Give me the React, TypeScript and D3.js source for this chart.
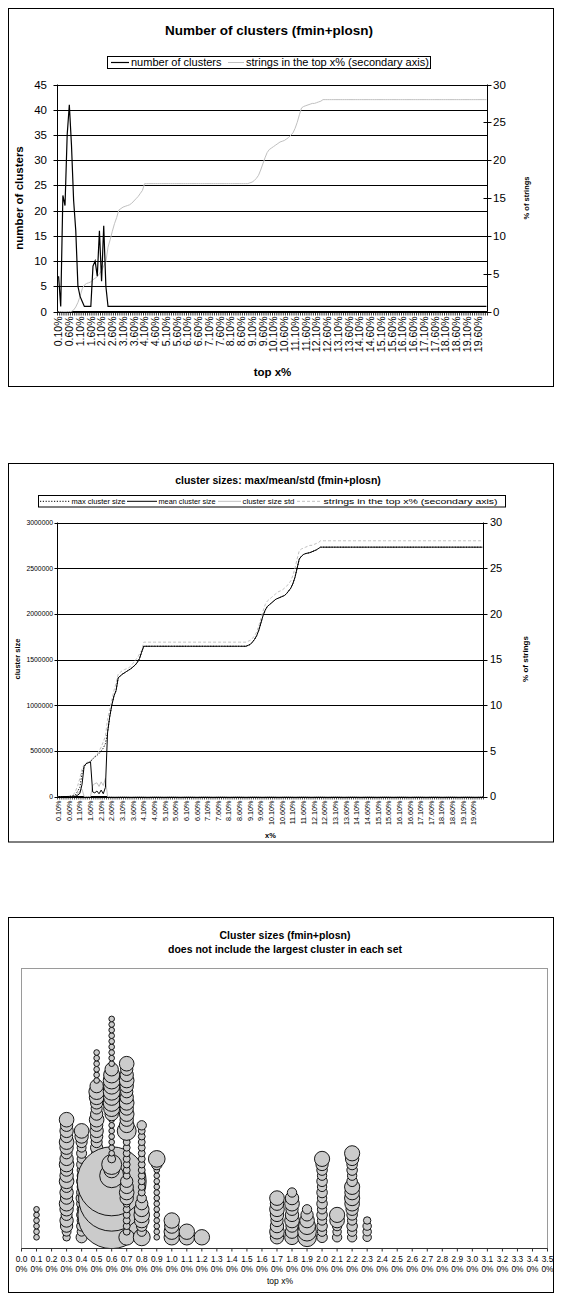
import React from 'react';
import * as d3 from 'd3';

const FONT = "'Liberation Sans', Arial, Helvetica, sans-serif";
const INK = '#000';
const LIGHT = '#c0c0c0';

// Category axis shared by the two line charts: top x% = 0.10% .. 20.00%
const topPercent: number[] = d3.range(1, 201).map((d) => d / 10);
const topPercentLabels: string[] = topPercent.map((v) => `${v.toFixed(2)}%`);

// Number of clusters per set
const numClusters: number[] = [
  7, 1, 23, 21, 35, 41, 33, 22, 16, 5, 3, 2, 1, 1, 1, 1, 9, 10, 7, 16, 6, 17, 5, 1, 1,
  1, 1, 1, 1, 1, 1, 1, 1, 1, 1, 1, 1, 1, 1, 1, 1, 1, 1, 1, 1, 1, 1, 1, 1, 1,
  1, 1, 1, 1, 1, 1, 1, 1, 1, 1, 1, 1, 1, 1, 1, 1, 1, 1, 1, 1, 1, 1, 1, 1, 1,
  1, 1, 1, 1, 1, 1, 1, 1, 1, 1, 1, 1, 1, 1, 1, 1, 1, 1, 1, 1, 1, 1, 1, 1, 1,
  1, 1, 1, 1, 1, 1, 1, 1, 1, 1, 1, 1, 1, 1, 1, 1, 1, 1, 1, 1, 1, 1, 1, 1, 1,
  1, 1, 1, 1, 1, 1, 1, 1, 1, 1, 1, 1, 1, 1, 1, 1, 1, 1, 1, 1, 1, 1, 1, 1, 1,
  1, 1, 1, 1, 1, 1, 1, 1, 1, 1, 1, 1, 1, 1, 1, 1, 1, 1, 1, 1, 1, 1, 1, 1, 1,
  1, 1, 1, 1, 1, 1, 1, 1, 1, 1, 1, 1, 1, 1, 1, 1, 1, 1, 1, 1, 1, 1, 1, 1, 1,
];

// % of strings in the top x% (secondary axis)
const stringsPct: number[] = [
  0, 0, 0, 0, 0, 0, 0, 0.2, 0.6, 1.2,
  2.0, 3.0, 3.5, 3.7, 3.8, 3.9, 4.2, 4.4, 4.6, 5.0,
  5.4, 6.0, 6.6, 8.5, 9.5, 10.6, 11.6, 12.4, 13.4, 13.6,
  13.8, 13.9, 14.0, 14.1, 14.3, 14.6, 14.9, 15.2, 15.6, 16.0,
  16.9, 16.9, 16.9, 16.9, 16.9, 16.9, 16.9, 16.9, 16.9, 16.9,
  16.9, 16.9, 16.9, 16.9, 16.9, 16.9, 16.9, 16.9, 16.9, 16.9,
  16.9, 16.9, 16.9, 16.9, 16.9, 16.9, 16.9, 16.9, 16.9, 16.9,
  16.9, 16.9, 16.9, 16.9, 16.9, 16.9, 16.9, 16.9, 16.9, 16.9,
  16.9, 16.9, 16.9, 16.9, 16.9, 16.9, 16.9, 16.9, 16.9, 17.0,
  17.1, 17.3, 17.6, 18.0, 18.7, 19.5, 20.3, 21.0, 21.4, 21.6,
  21.8, 22.0, 22.2, 22.4, 22.5, 22.6, 22.8, 23.0, 23.3, 23.6,
  24.2, 25.0, 26.0, 26.9, 27.1, 27.2, 27.3, 27.4, 27.5, 27.5,
  27.6, 27.7, 27.8, 28.0, 28.0, 28.0, 28.0, 28.0, 28.0, 28.0,
  28.0, 28.0, 28.0, 28.0, 28.0, 28.0, 28.0, 28.0, 28.0, 28.0,
  28.0, 28.0, 28.0, 28.0, 28.0, 28.0, 28.0, 28.0, 28.0, 28.0,
  28.0, 28.0, 28.0, 28.0, 28.0, 28.0, 28.0, 28.0, 28.0, 28.0,
  28.0, 28.0, 28.0, 28.0, 28.0, 28.0, 28.0, 28.0, 28.0, 28.0,
  28.0, 28.0, 28.0, 28.0, 28.0, 28.0, 28.0, 28.0, 28.0, 28.0,
  28.0, 28.0, 28.0, 28.0, 28.0, 28.0, 28.0, 28.0, 28.0, 28.0,
  28.0, 28.0, 28.0, 28.0, 28.0, 28.0, 28.0, 28.0, 28.0, 28.0,
];

// Cluster sizes, in thousands of strings
const maxClusterSizeK: number[] = [
  0, 0, 0, 0, 0, 2, 5, 10, 20, 60,
  100, 250, 330, 360, 370, 380, 410, 430, 450, 470,
  500, 530, 580, 700, 870, 1000, 1100, 1160, 1300, 1320,
  1340, 1355, 1370, 1385, 1400, 1420, 1440, 1470, 1510, 1580,
  1645, 1645, 1645, 1645, 1645, 1645, 1645, 1645, 1645, 1645,
  1645, 1645, 1645, 1645, 1645, 1645, 1645, 1645, 1645, 1645,
  1645, 1645, 1645, 1645, 1645, 1645, 1645, 1645, 1645, 1645,
  1645, 1645, 1645, 1645, 1645, 1645, 1645, 1645, 1645, 1645,
  1645, 1645, 1645, 1645, 1645, 1645, 1645, 1645, 1645, 1655,
  1665, 1690, 1720, 1760, 1820, 1900, 1980, 2040, 2080, 2100,
  2120, 2140, 2160, 2170, 2180, 2190, 2200, 2220, 2250, 2280,
  2330, 2400, 2500, 2600, 2630, 2650, 2660, 2665, 2670, 2680,
  2690, 2700, 2715, 2730, 2730, 2730, 2730, 2730, 2730, 2730,
  2730, 2730, 2730, 2730, 2730, 2730, 2730, 2730, 2730, 2730,
  2730, 2730, 2730, 2730, 2730, 2730, 2730, 2730, 2730, 2730,
  2730, 2730, 2730, 2730, 2730, 2730, 2730, 2730, 2730, 2730,
  2730, 2730, 2730, 2730, 2730, 2730, 2730, 2730, 2730, 2730,
  2730, 2730, 2730, 2730, 2730, 2730, 2730, 2730, 2730, 2730,
  2730, 2730, 2730, 2730, 2730, 2730, 2730, 2730, 2730, 2730,
  2730, 2730, 2730, 2730, 2730, 2730, 2730, 2730, 2730, 2730,
];

const meanClusterSizeK: number[] = [
  0, 0, 0, 0, 0, 0.3, 0.6, 1, 1.5, 15,
  35, 130, 330, 360, 370, 380, 50, 40, 60, 30,
  70, 30, 100, 700, 870, 1000, 1100, 1160, 1300, 1320,
  1340, 1355, 1370, 1385, 1400, 1420, 1440, 1470, 1510, 1580,
  1645, 1645, 1645, 1645, 1645, 1645, 1645, 1645, 1645, 1645,
  1645, 1645, 1645, 1645, 1645, 1645, 1645, 1645, 1645, 1645,
  1645, 1645, 1645, 1645, 1645, 1645, 1645, 1645, 1645, 1645,
  1645, 1645, 1645, 1645, 1645, 1645, 1645, 1645, 1645, 1645,
  1645, 1645, 1645, 1645, 1645, 1645, 1645, 1645, 1645, 1655,
  1665, 1690, 1720, 1760, 1820, 1900, 1980, 2040, 2080, 2100,
  2120, 2140, 2160, 2170, 2180, 2190, 2200, 2220, 2250, 2280,
  2330, 2400, 2500, 2600, 2630, 2650, 2660, 2665, 2670, 2680,
  2690, 2700, 2715, 2730, 2730, 2730, 2730, 2730, 2730, 2730,
  2730, 2730, 2730, 2730, 2730, 2730, 2730, 2730, 2730, 2730,
  2730, 2730, 2730, 2730, 2730, 2730, 2730, 2730, 2730, 2730,
  2730, 2730, 2730, 2730, 2730, 2730, 2730, 2730, 2730, 2730,
  2730, 2730, 2730, 2730, 2730, 2730, 2730, 2730, 2730, 2730,
  2730, 2730, 2730, 2730, 2730, 2730, 2730, 2730, 2730, 2730,
  2730, 2730, 2730, 2730, 2730, 2730, 2730, 2730, 2730, 2730,
  2730, 2730, 2730, 2730, 2730, 2730, 2730, 2730, 2730, 2730,
];

const stdClusterSizeK: number[] = [
  0, 0, 0, 0, 0, 1, 2, 5, 10, 30,
  60, 80, 0, 0, 0, 0, 120, 140, 150, 110,
  160, 120, 200, 0, 0, 0, 0, 0, 0, 0,
  0, 0, 0, 0, 0, 0, 0, 0, 0, 0,
  0, 0, 0, 0, 0, 0, 0, 0, 0, 0,
  0, 0, 0, 0, 0, 0, 0, 0, 0, 0,
  0, 0, 0, 0, 0, 0, 0, 0, 0, 0,
  0, 0, 0, 0, 0, 0, 0, 0, 0, 0,
  0, 0, 0, 0, 0, 0, 0, 0, 0, 0,
  0, 0, 0, 0, 0, 0, 0, 0, 0, 0,
  0, 0, 0, 0, 0, 0, 0, 0, 0, 0,
  0, 0, 0, 0, 0, 0, 0, 0, 0, 0,
  0, 0, 0, 0, 0, 0, 0, 0, 0, 0,
  0, 0, 0, 0, 0, 0, 0, 0, 0, 0,
  0, 0, 0, 0, 0, 0, 0, 0, 0, 0,
  0, 0, 0, 0, 0, 0, 0, 0, 0, 0,
  0, 0, 0, 0, 0, 0, 0, 0, 0, 0,
  0, 0, 0, 0, 0, 0, 0, 0, 0, 0,
  0, 0, 0, 0, 0, 0, 0, 0, 0, 0,
  0, 0, 0, 0, 0, 0, 0, 0, 0, 0,
];

const clusterTicks = [0, 5, 10, 15, 20, 25, 30, 35, 40, 45];
const stringsTicks = [0, 5, 10, 15, 20, 25, 30];
const sizeTicks = [0, 500000, 1000000, 1500000, 2000000, 2500000, 3000000];

// Bubble chart: one column per set; each column lists the sizes of
// clusters ranked 2..n (the largest cluster, rank 1, is left out)
const bubbleTopPct = [0.1, 0.3, 0.4, 0.5, 0.6, 0.7, 0.8, 0.9, 1.0, 1.1, 1.2, 1.7, 1.8, 1.9, 2.0, 2.1, 2.2, 2.3];
const bubbleSizes: number[][] = [
  [8, 8, 8, 8, 8, 8],
  [14, 20, 38, 45, 31, 45, 54, 38, 45, 31, 54, 45, 38, 54, 45, 31, 45, 54, 38, 45, 38, 54],
  [31, 20, 25, 20, 25, 20, 25, 31, 25, 20, 25, 20, 20, 25, 20, 25, 20, 31, 45, 54],
  [31, 25, 31, 38, 25, 31, 38, 25, 31, 25, 31, 25, 31, 38, 31, 25, 38, 31, 38, 45, 38, 54, 38, 31, 38, 54, 61, 45, 8, 8, 8, 8, 8, 8],
  [100, 60, 80, 50, 1150, 60, 40, 1100, 30, 25, 1200, 145, 60, 100, 16, 8, 8, 8, 8, 8, 8, 8, 45, 65, 72, 65, 72, 65, 72, 65, 45, 8, 8, 8, 8, 8, 8, 8, 8, 8],
  [62, 12, 12, 12, 12, 12, 12, 45, 54, 45, 38, 12, 12, 12, 12, 12, 12, 12, 12, 90, 54, 45, 54, 45, 54, 45, 38, 45, 54, 45, 38, 54],
  [72, 22, 28, 54, 61, 54, 38, 22, 12, 12, 12, 12, 12, 12, 12, 12, 12, 12, 12, 12, 22],
  [8, 8, 8, 8, 8, 8, 8, 8, 8, 8, 8, 8, 8, 28, 70],
  [60, 60, 52, 60],
  [60, 60],
  [60],
  [45, 54, 45, 38, 45, 54, 45, 54],
  [54, 45, 38, 54, 45, 38, 54, 45, 22],
  [88, 88, 72, 54, 38, 22],
  [28, 22, 28, 22, 28, 22, 28, 22, 28, 22, 28, 22, 28, 38, 58],
  [22, 18, 22, 54, 58],
  [22, 22, 28, 22, 28, 38, 54, 58, 54, 58, 28, 22, 28, 28, 45, 58],
  [18, 18, 18, 14],
];
const bubbleAxisTicks: number[] = d3.range(0, 36).map((d) => d / 10);

function Frame({ y, h }: { y: number; h: number }) {
  return <rect x={8.5} y={y} width={545} height={h} fill="#fff" stroke={INK} strokeWidth={1} />;
}

function ClusterCountChart() {
  const L = 57.5, R = 487.5, T = 84.5, B = 311.5;
  const x = d3.scaleBand<string>().domain(topPercentLabels).range([L, R]);
  const cx = (i: number) => (x(topPercentLabels[i]) as number) + x.bandwidth() / 2;
  const y = d3.scaleLinear().domain([0, 45]).range([B, T]);
  const y2 = d3.scaleLinear().domain([0, 30]).range([B, T]);
  const clusterPath = d3.line<number>().x((_, i) => cx(i)).y((d) => y(d))(numClusters) ?? '';
  const stringsPath = d3.line<number>().x((_, i) => cx(i)).y((d) => y2(d))(stringsPct) ?? '';
  const boundaries = [...topPercentLabels.map((l) => x(l) as number), R];

  return (
    <g>
      <Frame y={8.5} h={378} />
      <text x={269} y={35} textAnchor="middle" fontSize={13.5} fontWeight="bold">
        Number of clusters (fmin+plosn)
      </text>

      <rect x={107.5} y={56.5} width={323} height={12} fill="#fff" stroke={INK} />
      <line x1={111} x2={129} y1={62.5} y2={62.5} stroke={INK} strokeWidth={1.2} />
      <text x={131} y={66.4} fontSize={11}>number of clusters</text>
      <line x1={228} x2={244} y1={62.5} y2={62.5} stroke={LIGHT} />
      <text x={246} y={66.4} fontSize={11}>strings in the top x% (secondary axis)</text>

      {clusterTicks.map((t) => (
        <line key={t} x1={L - 4} x2={R} y1={Math.round(y(t)) + 0.5} y2={Math.round(y(t)) + 0.5} stroke={INK} />
      ))}
      {clusterTicks.map((t) => (
        <text key={t} x={47} y={y(t)} dy="0.35em" textAnchor="end" fontSize={11.5}>{t}</text>
      ))}
      {stringsTicks.map((t) => (
        <g key={t}>
          <line x1={R - 4} x2={R + 4} y1={Math.round(y2(t)) + 0.5} y2={Math.round(y2(t)) + 0.5} stroke={INK} />
          <text x={493} y={y2(t)} dy="0.35em" fontSize={11.5}>{t}</text>
        </g>
      ))}
      <line x1={L} x2={L} y1={T} y2={B} stroke={INK} />
      <line x1={R} x2={R} y1={T} y2={B} stroke={INK} />
      <line x1={L} x2={R} y1={B} y2={B} stroke={INK} />
      {boundaries.map((bx, i) => (
        <line key={i} x1={bx} x2={bx} y1={B} y2={B + 4} stroke={INK} strokeWidth={0.8} />
      ))}

      <path d={stringsPath} fill="none" stroke={LIGHT} strokeWidth={1} />
      <path d={clusterPath} fill="none" stroke={INK} strokeWidth={1.2} />

      {topPercentLabels.map((l, i) =>
        i % 5 === 0 ? (
          <text key={l} transform={`translate(${cx(i)},${B + 5}) rotate(-90)`} textAnchor="end" dy="0.35em" fontSize={10.5}>
            {l}
          </text>
        ) : null
      )}

      <text transform={`translate(23,198) rotate(-90)`} textAnchor="middle" fontSize={11.5} fontWeight="bold">
        number of clusters
      </text>
      <text transform={`translate(529,198) rotate(-90)`} textAnchor="middle" fontSize={7.5} fontWeight="bold">
        % of strings
      </text>
      <text x={(L + R) / 2} y={376} textAnchor="middle" fontSize={11.5} fontWeight="bold">top x%</text>
    </g>
  );
}

function ClusterSizeChart() {
  const L = 57.5, R = 483.5, T = 522.5, B = 796.5;
  const x = d3.scaleBand<string>().domain(topPercentLabels).range([L, R]);
  const cx = (i: number) => (x(topPercentLabels[i]) as number) + x.bandwidth() / 2;
  const y = d3.scaleLinear().domain([0, 3000000]).range([B, T]);
  const y2 = d3.scaleLinear().domain([0, 30]).range([B, T]);
  const sizeLine = d3.line<number>().x((_, i) => cx(i)).y((d) => y(d * 1000));
  const pctLine = d3.line<number>().x((_, i) => cx(i)).y((d) => y2(d));
  const boundaries = [...topPercentLabels.map((l) => x(l) as number), R];
  const ly = 501.3;

  // legend entries laid out left to right
  const legendItems = [
    { label: 'max cluster size', stroke: INK, dash: '1.2,1.6', width: 54 },
    { label: 'mean cluster size', stroke: INK, dash: undefined, width: 57 },
    { label: 'cluster size std', stroke: LIGHT, dash: undefined, width: 52 },
    { label: 'strings in the top x% (secondary axis)', stroke: LIGHT, dash: '3,2', width: 174 },
  ];
  const legendStarts = [40, 127, 218, 297];
  const sampleW = [30, 30, 23, 25];

  return (
    <g>
      <Frame y={463.5} h={378.5} />
      <text x={278} y={484} textAnchor="middle" fontSize={10.5} fontWeight="bold">
        cluster sizes: max/mean/std (fmin+plosn)
      </text>

      <rect x={38.5} y={495.5} width={467} height={11.5} fill="#fff" stroke={INK} />
      {legendItems.map((it, i) => (
        <g key={it.label}>
          <line x1={legendStarts[i]} x2={legendStarts[i] + sampleW[i]} y1={ly} y2={ly} stroke={it.stroke} strokeDasharray={it.dash} />
          <text
            x={legendStarts[i] + sampleW[i] + 1.5}
            y={ly + 2.8}
            fontSize={7.8}
            textLength={it.width}
            lengthAdjust="spacingAndGlyphs"
          >
            {it.label}
          </text>
        </g>
      ))}

      {sizeTicks.map((t) => (
        <g key={t}>
          <line x1={L - 3} x2={R} y1={Math.round(y(t)) + 0.5} y2={Math.round(y(t)) + 0.5} stroke={INK} />
          <text x={53} y={y(t)} dy="0.35em" textAnchor="end" fontSize={6.8}>{t}</text>
        </g>
      ))}
      {stringsTicks.map((t) => (
        <g key={t}>
          <line x1={R} x2={R + 4} y1={Math.round(y2(t)) + 0.5} y2={Math.round(y2(t)) + 0.5} stroke={INK} />
          <text x={490} y={y2(t)} dy="0.35em" fontSize={11}>{t}</text>
        </g>
      ))}
      <line x1={L} x2={L} y1={T} y2={B} stroke={INK} />
      <line x1={R} x2={R} y1={T} y2={B} stroke={INK} />
      <line x1={L} x2={R} y1={B} y2={B} stroke={INK} />
      {boundaries.map((bx, i) => (
        <line key={i} x1={bx} x2={bx} y1={B} y2={B + 3} stroke={INK} strokeWidth={0.7} />
      ))}

      <path d={pctLine(stringsPct) ?? ''} fill="none" stroke={LIGHT} strokeDasharray="3,2" />
      <path d={sizeLine(stdClusterSizeK) ?? ''} fill="none" stroke={LIGHT} />
      <path d={sizeLine(meanClusterSizeK) ?? ''} fill="none" stroke={INK} />
      <path d={sizeLine(maxClusterSizeK) ?? ''} fill="none" stroke={INK} strokeDasharray="1.2,1.6" />

      {topPercentLabels.map((l, i) =>
        i % 5 === 0 ? (
          <text key={l} transform={`translate(${cx(i)},${B + 4}) rotate(-90)`} textAnchor="end" dy="0.35em" fontSize={7.2}>
            {l}
          </text>
        ) : null
      )}

      <text transform={`translate(20,659) rotate(-90)`} textAnchor="middle" fontSize={7.5} fontWeight="bold">
        cluster size
      </text>
      <text transform={`translate(528,659) rotate(-90)`} textAnchor="middle" fontSize={8} fontWeight="bold">
        % of strings
      </text>
      <text x={(L + R) / 2} y={837.5} textAnchor="middle" fontSize={7.5} fontWeight="bold">x%</text>
    </g>
  );
}

function BubbleChart() {
  const L = 21.5, R = 547.5, T = 968.5, B = 1248.5;
  const x = d3.scaleLinear().domain([0, 3.5]).range([L, R]);
  const y = d3.scaleLinear().domain([0, 50]).range([B, T]);
  const r = d3.scaleSqrt().domain([0, 1200]).range([0, 34.5]);
  const bubbles = bubbleTopPct.flatMap((p, c) =>
    bubbleSizes[c].map((s, j) => ({ p, rank: j + 2, s, key: `${c}-${j}` }))
  );

  return (
    <g>
      <Frame y={917.5} h={375} />
      <text x={285} y={938.5} textAnchor="middle" fontSize={10.5} fontWeight="bold">
        Cluster sizes (fmin+plosn)
      </text>
      <text x={285} y={952.5} textAnchor="middle" fontSize={10.5} fontWeight="bold">
        does not include the largest cluster in each set
      </text>

      <defs>
        <clipPath id="bubble-plot">
          <rect x={L} y={T} width={R - L} height={B - T} />
        </clipPath>
      </defs>
      <rect x={L} y={T} width={R - L} height={B - T} fill="#fff" stroke="#9a9a9a" />
      <g clipPath="url(#bubble-plot)">
        {bubbles.map((b) => (
          <circle key={b.key} cx={x(b.p)} cy={y(b.rank)} r={r(b.s)} fill="#cbcbcb" stroke={INK} strokeWidth={0.9} />
        ))}
      </g>
      <line x1={L} x2={R} y1={B} y2={B} stroke="#333" />
      {bubbleAxisTicks.map((t) => {
        const s = `${t.toFixed(2)}%`;
        return (
          <g key={s} transform={`translate(${x(t)},0)`}>
            <line y1={B} y2={B + 3} stroke="#333" />
            <text y={1262} textAnchor="middle" fontSize={8.3}>{s.slice(0, 3)}</text>
            <text y={1271.5} textAnchor="middle" fontSize={8.3}>{s.slice(3)}</text>
          </g>
        );
      })}
      <text x={280} y={1283.5} textAnchor="middle" fontSize={8.5}>top x%</text>
    </g>
  );
}

export default function App() {
  return (
    <svg
      width={562}
      height={1294}
      viewBox="0 0 562 1294"
      style={{ position: 'absolute', left: 0, top: 0, display: 'block' }}
      fontFamily={FONT}
      fill={INK}
    >
      <rect width={562} height={1294} fill="#fff" />
      <ClusterCountChart />
      <ClusterSizeChart />
      <BubbleChart />
    </svg>
  );
}
